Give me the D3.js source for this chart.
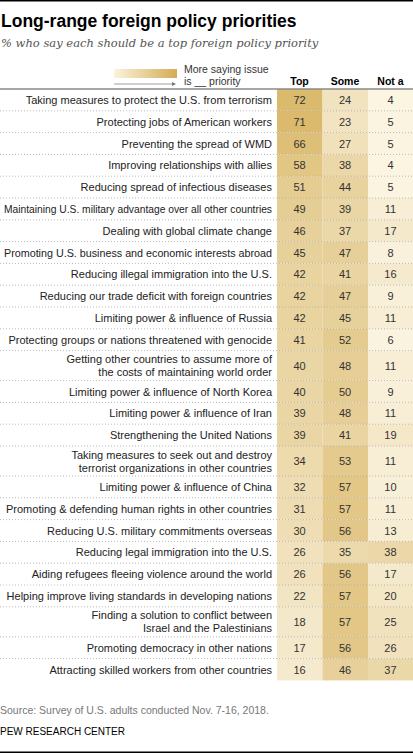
<!DOCTYPE html><html><head><meta charset="utf-8"><script src="https://cdn.jsdelivr.net/npm/d3@7"></script>
<style>body{margin:0;background:#fff}text{font-family:"Liberation Sans",Arial,sans-serif}</style></head><body>
<svg id="c" width="413" height="753"></svg>
<script>
const items=[["Taking measures to protect the U.S. from terrorism"],["Protecting jobs of American workers"],["Preventing the spread of WMD"],["Improving relationships with allies"],["Reducing spread of infectious diseases"],["Maintaining U.S. military advantage over all other countries"],["Dealing with global climate change"],["Promoting U.S. business and economic interests abroad"],["Reducing illegal immigration into the U.S."],["Reducing our trade deficit with foreign countries"],["Limiting power & influence of Russia"],["Protecting groups or nations threatened with genocide"],["Getting other countries to assume more of","the costs of maintaining world order"],["Limiting power & influence of North Korea"],["Limiting power & influence of Iran"],["Strengthening the United Nations"],["Taking measures to seek out and destroy","terrorist organizations in other countries"],["Limiting power & influence of China"],["Promoting & defending human rights in other countries"],["Reducing U.S. military commitments overseas"],["Reducing legal immigration into the U.S."],["Aiding refugees fleeing violence around the world"],["Helping improve living standards in developing nations"],["Finding a solution to conflict between","Israel and the Palestinians"],["Promoting democracy in other nations"],["Attracting skilled workers from other countries"]];
const top_=[72,71,66,58,51,49,46,45,42,42,42,41,40,40,39,39,34,32,31,30,26,26,22,18,17,16];
const some=[24,23,27,38,44,39,37,47,41,47,45,52,48,50,48,41,53,57,57,56,35,56,57,57,56,46];
const nota=[4,5,5,4,5,11,17,8,16,9,11,6,11,9,11,19,11,10,11,13,38,17,20,25,26,37];
const cols=["Top","Some","Not a"];
const svg=d3.select("#c");
svg.append("rect").attr("x",0).attr("y",0).attr("width",413).attr("height",1.5).attr("fill","#000");
svg.append("rect").attr("x",0).attr("y",751.5).attr("width",413).attr("height",1.5).attr("fill","#000");
svg.append("text").attr("x",1).attr("y",27).attr("font-size",17.5).attr("font-weight","bold").attr("fill","#000").text("Long-range foreign policy priorities");
svg.append("text").attr("x",1).attr("y",47).attr("font-style","italic").attr("fill","#555").style("font-family","'DejaVu Serif',serif").attr("font-size",11.5).text("% who say each should be a top foreign policy priority");
const color=d3.scaleLinear().domain([0,75]).range(["#fdf8e9","#d9b767"]);
const defs=svg.append("defs");
const g=defs.append("linearGradient").attr("id","lg");
g.append("stop").attr("offset","0").attr("stop-color","#fbf3dc");
g.append("stop").attr("offset","1").attr("stop-color","#d4ac55");
svg.append("rect").attr("x",114).attr("y",69).attr("width",63).attr("height",9).attr("fill","url(#lg)");
svg.append("line").attr("x1",114).attr("x2",172).attr("y1",84).attr("y2",84).attr("stroke","#777").attr("stroke-width",0.7);
svg.append("path").attr("d","M172,82 L176,84 L172,86 Z").attr("fill","#777");
svg.append("text").attr("x",184).attr("y",73).attr("font-size",10.5).attr("fill","#333").text("More saying issue");
svg.append("text").attr("x",184).attr("y",85).attr("font-size",10.5).attr("fill","#333").text("is __ priority");
const x=d3.scaleBand().domain(cols).range([277,413]).paddingInner(0.01);
cols.forEach(c=>svg.append("text").attr("x",x(c)+x.bandwidth()/2).attr("y",85).attr("text-anchor","middle").attr("font-size",10.5).attr("font-weight","bold").text(c));
const h=21.8,d=30;let yy=89;
const rows=items.map((l,i)=>{const r={l,i,y:yy,h:l.length>1?d:h};yy+=r.h;return r;});
const y=d3.scaleOrdinal().domain(d3.range(rows.length)).range(rows.map(r=>r.y));
rows.forEach(r=>{
  const vals=[top_[r.i],some[r.i],nota[r.i]];
  cols.forEach((c,j)=>{
    svg.append("rect").attr("x",x(c)).attr("y",y(r.i)).attr("width",x.bandwidth()+0.5).attr("height",r.h).attr("fill",color(vals[j]));
    svg.append("text").attr("x",x(c)+x.bandwidth()/2).attr("y",y(r.i)+r.h/2+4).attr("text-anchor","middle").attr("font-size",11).attr("fill","#333").text(vals[j]);
  });
  r.l.forEach((t,k)=>{const tx=svg.append("text").attr("x",272).attr("y",y(r.i)+r.h/2+4+(r.l.length>1?(k-0.5)*13:0)).attr("text-anchor","end").attr("font-size",11).attr("fill","#222").text(t);
    if(tx.node().getComputedTextLength()>268)tx.attr("textLength",268).attr("lengthAdjust","spacingAndGlyphs");});
  if(r.i>0)svg.append("line").attr("x1",0).attr("x2",413).attr("y1",y(r.i)).attr("y2",y(r.i)).attr("stroke","#aaa").attr("stroke-width",0.8).attr("stroke-dasharray","1,2");
});
svg.append("line").attr("x1",0).attr("x2",413).attr("y1",89).attr("y2",89).attr("stroke","#888").attr("stroke-width",1.5);
svg.append("text").attr("x",0).attr("y",714).attr("font-size",10.5).attr("fill","#777").text("Source: Survey of U.S. adults conducted Nov. 7-16, 2018.");
svg.append("text").attr("x",0).attr("y",735).attr("font-size",10).attr("fill","#000").text("PEW RESEARCH CENTER");
</script></body></html>
